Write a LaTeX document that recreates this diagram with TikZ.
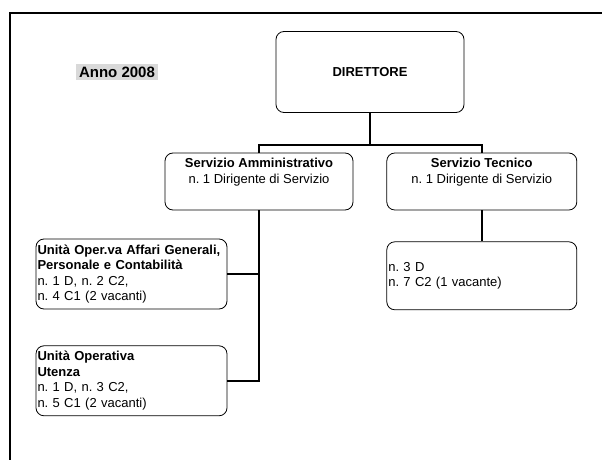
\documentclass[tikz,border=0pt]{standalone}
\usepackage{fontspec}
\setmainfont{Liberation Sans}
\usetikzlibrary{positioning}
\frenchspacing

\begin{document}
\begin{tikzpicture}[
        x=1pt, y=-1pt,
        node distance=31pt and 33pt,
        every node/.style={font=\fontsize{13}{15.5}\selectfont},
        unit/.style={draw, rounded corners=8pt, line width=0.8pt, align=center},
        staff/.style={unit, align=left, inner xsep=1.5pt, inner ysep=2pt},
        link/.style={line width=1.5pt}
    ]
    \useasboundingbox (0,0) rectangle (602,460);
    \clip (0,0) rectangle (602,460);

    % sheet border
    \draw[line width=2pt] (10,470) -- (10,13) -- (620,13);

    % Nodes
    \node[fill=gray!30, inner sep=3pt, font=\fontsize{15}{17}\selectfont] (anno) at (117,72) {\textbf{Anno 2008}};

    \node[unit, minimum width=188pt, minimum height=81pt] (dir) at (370,72) {\textbf{DIRETTORE}};

    \node[unit, minimum width=188pt, text height=26pt, text depth=23pt, inner ysep=4pt] (amm) at (259,181.5)
        {\textbf{Servizio Amministrativo} \\ n. 1 Dirigente di Servizio};
    \node[unit, minimum width=190pt, text height=26pt, text depth=23pt, inner ysep=4pt, right=of amm] (tec)
        {\textbf{Servizio Tecnico} \\ n. 1 Dirigente di Servizio};

    \node[staff, text width=188pt, minimum height=70pt] (affari) at (131.5,274)
        {\mbox{\textbf{Unità Oper.va Affari Generali,}} \\
         \textbf{Personale e Contabilità} \\
         n. 1 D, n. 2 C2, \\
         n. 4 C1 (2 vacanti)};
    \node[staff, text width=188pt, minimum height=70pt, below=36pt of affari] (utenza)
        {\textbf{Unità Operativa} \\
         \textbf{Utenza} \\
         n. 1 D, n. 3 C2, \\
         n. 5 C1 (2 vacanti)};

    \node[staff, text width=187pt, minimum height=68pt, below=of tec] (tecsub)
        {n. 3 D \\
         n. 7 C2 (1 vacante)};

    % Connectors
    \draw[link] (dir.south) -- ++(0,32) coordinate (fork);
    \draw[link] (fork) -| (amm.north);
    \draw[link] (fork) -| (tec.north);
    \draw[link] (amm.south) |- (utenza.east);
    \draw[link] (amm.south |- affari.east) -- (affari.east);
    \draw[link] (tec.south) -- (tecsub.north);
\end{tikzpicture}
\end{document}
